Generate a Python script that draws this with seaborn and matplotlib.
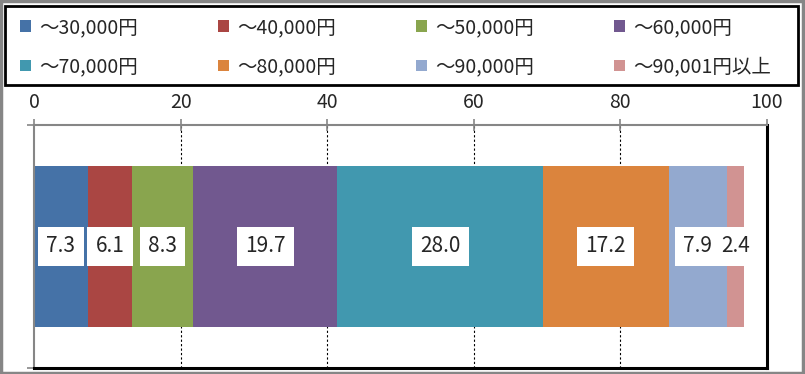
import numpy as np
import pandas as pd
import matplotlib.pyplot as plt
import seaborn as sns
from matplotlib.patches import Patch, Rectangle

# ==========================================
# DATA
# ==========================================

categories = [
    "～30,000円", "～40,000円", "～50,000円", "～60,000円",
    "～70,000円", "～80,000円", "～90,000円", "～90,001円以上",
]
values = [7.3, 6.1, 8.3, 19.7, 28.0, 17.2, 7.9, 2.4]
colors = [
    "#4572A7", "#AA4643", "#89A54E", "#71588F",
    "#4198AF", "#DB843D", "#93A9CF", "#D19392",
]
x_ticks = [0, 20, 40, 60, 80, 100]

# ==========================================
# STYLE
# ==========================================

sns.set_style("white")
plt.rcParams["font.family"] = ["Noto Sans CJK JP", "DejaVu Sans"]

GRAY = "#868686"
FS = 14

df = pd.DataFrame({"label": categories, "value": values})
df["cum"] = df["value"].cumsum()
df["mid"] = df["cum"] - df["value"] / 2
df["row"] = "all"

fig = plt.figure(figsize=(8.05, 3.74), dpi=100)
ax = fig.add_axes([34 / 805, 1 - 368 / 374, 733 / 805, 243 / 374])

# stacked bar: draw cumulative totals, largest first
for i in reversed(range(len(df))):
    sns.barplot(
        x=[df["cum"][i]],
        y=[df["row"][i]],
        orient="h",
        color=colors[i],
        width=0.66,
        saturation=1,
        linewidth=0,
        ax=ax,
    )

for i in range(len(df)):
    ax.text(
        df["mid"][i], 0, f"{df['value'][i]:.1f}",
        ha="center", va="center", fontsize=15,
        bbox=dict(facecolor="white", edgecolor="none", pad=6),
    )

# ==========================================
# AXES
# ==========================================

ax.set_xlim(0, 100)
ax.set_ylim(0.5, -0.5)
ax.xaxis.tick_top()
ax.set_xticks(x_ticks)
ax.tick_params(axis="x", direction="inout", length=8, width=1.2,
               color=GRAY, labelsize=FS, pad=5, top=True, bottom=False)
ax.set_yticks([-0.5, 0.5])
ax.set_yticklabels([])
ax.tick_params(axis="y", direction="out", length=5, width=1.2, color=GRAY, left=True)
ax.set_xlabel("")
ax.set_ylabel("")

for g in x_ticks[1:-1]:
    ax.axvline(g, color="black", linestyle=(0, (2, 2)), linewidth=0.8, zorder=0)

ax.spines["top"].set_color(GRAY)
ax.spines["top"].set_linewidth(1.5)
ax.spines["left"].set_color(GRAY)
ax.spines["left"].set_linewidth(1.5)
ax.spines["right"].set_color("black")
ax.spines["right"].set_linewidth(2.2)
ax.spines["bottom"].set_color("black")
ax.spines["bottom"].set_linewidth(2.2)

# ==========================================
# LEGEND
# ==========================================

# matplotlib fills legend columns first, reorder so rows read left to right
order = [0, 4, 1, 5, 2, 6, 3, 7]
handles = [Patch(facecolor=colors[i], edgecolor="none") for i in order]
labels = [categories[i] for i in order]
leg = fig.legend(
    handles, labels,
    loc="upper left",
    bbox_to_anchor=(20 / 805, 1 - 17 / 374),
    ncol=4,
    fontsize=FS,
    handlelength=0.55,
    handleheight=0.55,
    handletextpad=0.45,
    columnspacing=4.1,
    labelspacing=0.95,
    borderpad=0,
    borderaxespad=0,
    frameon=False,
)

# legend box drawn separately so it spans the full width
fig.patches.append(Rectangle((5 / 805, 1 - 85 / 374), 793 / 805, 79 / 374,
                             transform=fig.transFigure, fill=False,
                             edgecolor="black", linewidth=2))

# outer frame
fig.patches.append(Rectangle((0.001, 0.002), 0.997, 0.995, transform=fig.transFigure,
                             fill=False, edgecolor=GRAY, linewidth=2.5))

fig.savefig("out.png", dpi=100)
